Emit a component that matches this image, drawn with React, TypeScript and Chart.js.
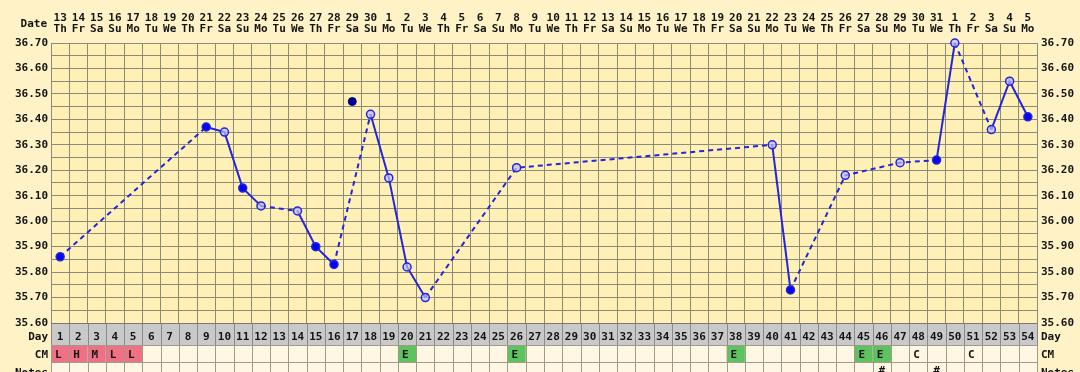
import React, { useEffect, useRef } from 'react';
import { Chart, registerables } from 'chart.js';

Chart.register(...registerables);

const cycleDays = [
  '1', '2', '3', '4', '5', '6', '7', '8', '9', '10', '11', '12', '13', '14', '15', '16', '17', '18',
  '19', '20', '21', '22', '23', '24', '25', '26', '27', '28', '29', '30', '31', '32', '33', '34', '35', '36',
  '37', '38', '39', '40', '41', '42', '43', '44', '45', '46', '47', '48', '49', '50', '51', '52', '53', '54',
];

const dateNumbers = [
  '13', '14', '15', '16', '17', '18', '19', '20', '21', '22', '23', '24', '25', '26', '27', '28', '29', '30',
  '1', '2', '3', '4', '5', '6', '7', '8', '9', '10', '11', '12', '13', '14', '15', '16', '17', '18',
  '19', '20', '21', '22', '23', '24', '25', '26', '27', '28', '29', '30', '31', '1', '2', '3', '4', '5',
];

const weekdays = [
  'Th', 'Fr', 'Sa', 'Su', 'Mo', 'Tu', 'We', 'Th', 'Fr', 'Sa', 'Su', 'Mo', 'Tu', 'We', 'Th', 'Fr', 'Sa', 'Su',
  'Mo', 'Tu', 'We', 'Th', 'Fr', 'Sa', 'Su', 'Mo', 'Tu', 'We', 'Th', 'Fr', 'Sa', 'Su', 'Mo', 'Tu', 'We', 'Th',
  'Fr', 'Sa', 'Su', 'Mo', 'Tu', 'We', 'Th', 'Fr', 'Sa', 'Su', 'Mo', 'Tu', 'We', 'Th', 'Fr', 'Sa', 'Su', 'Mo',
];

const temperatures: (number | null)[] = [
  35.86, null, null, null, null, null, null, null, 36.37, 36.35,
  36.13, 36.06, null, 36.04, 35.90, 35.83, null, 36.42, 36.17, 35.82,
  35.70, null, null, null, null, 36.21, null, null, null, null,
  null, null, null, null, null, null, null, null, null, 36.30,
  35.73, null, null, 36.18, null, null, 36.23, null, 36.24, 36.70,
  null, 36.36, 36.55, 36.41,
];

const filledDays = [1, 9, 11, 15, 16, 41, 49, 54];

const excludedTemps: (number | null)[] = [
  null, null, null, null, null, null, null, null, null, null,
  null, null, null, null, null, null, 36.47, null, null, null,
  null, null, null, null, null, null, null, null, null, null,
  null, null, null, null, null, null, null, null, null, null,
  null, null, null, null, null, null, null, null, null, null,
  null, null, null, null,
];

const cmCodes = [
  'L', 'H', 'M', 'L', 'L', '', '', '', '', '', '', '', '', '', '', '', '', '',
  '', 'E', '', '', '', '', '', 'E', '', '', '', '', '', '', '', '', '', '',
  '', 'E', '', '', '', '', '', '', 'E', 'E', '', 'C', '', '', 'C', '', '', '',
];

const notes = [
  '', '', '', '', '', '', '', '', '', '', '', '', '', '', '', '', '', '',
  '', '', '', '', '', '', '', '', '', '', '', '', '', '', '', '', '', '',
  '', '', '', '', '', '', '', '', '', '#', '', '', '#', '', '', '', '', '',
];

const yMin = 35.6;
const yMax = 36.7;
const yStep = 0.05;

const OUTER_BG = '#fef2c6';
const PLOT_BG = '#fff1b6';
const GRID = '#8e8a78';
const LINE = '#2424dc';
const FILLED = '#0505f0';
const OPEN_FILL = 'rgba(190,190,255,0.7)';
const EXCLUDED = '#000090';
const TEXT = '#141414';
const FONT = 'bold 11px "DejaVu Sans Mono"';

const cmColor = (c: string) => {
  if (c === 'L' || c === 'H' || c === 'M') return '#ef7186';
  if (c === 'E') return '#5ec25e';
  return null;
};

const fertilityPlugin = {
  id: 'fertilityDecor',
  beforeDraw(chart: any) {
    const { ctx } = chart;
    const { left, right, top, bottom } = chart.chartArea;
    ctx.save();
    ctx.fillStyle = OUTER_BG;
    ctx.fillRect(0, 0, chart.width, chart.height);
    ctx.fillStyle = PLOT_BG;
    ctx.fillRect(left, top, right - left, bottom - top);
    ctx.restore();
  },
  afterDraw(chart: any) {
    const { ctx } = chart;
    const xs = chart.scales.x;
    const { left, right, bottom } = chart.chartArea;
    const n = cycleDays.length;
    const w = (right - left) / n;
    const dayTop = bottom;
    const dayBot = bottom + 22;
    const cmBot = dayBot + 17;
    const notesBot = cmBot + 17;
    ctx.save();
    ctx.font = FONT;
    ctx.fillStyle = TEXT;
    ctx.textBaseline = 'alphabetic';

    // header
    ctx.textAlign = 'center';
    for (let i = 0; i < n; i++) {
      const cx = xs.getPixelForValue(i);
      ctx.fillText(dateNumbers[i], cx, 21);
      ctx.fillText(weekdays[i], cx, 32);
    }
    ctx.textAlign = 'right';
    ctx.fillText('Date', left - 4, 27);

    // bands
    ctx.fillStyle = '#c9c9c9';
    ctx.fillRect(left, dayTop, right - left, dayBot - dayTop);
    ctx.fillStyle = '#fff6e3';
    ctx.fillRect(left, dayBot, right - left, notesBot - dayBot);
    for (let i = 0; i < n; i++) {
      const col = cmColor(cmCodes[i]);
      if (col) {
        const cx = xs.getPixelForValue(i);
        ctx.fillStyle = col;
        ctx.fillRect(cx - w / 2, dayBot, w, cmBot - dayBot);
      }
    }
    ctx.lineWidth = 1;
    ctx.strokeStyle = '#8a8a8a';
    ctx.beginPath();
    for (let i = 0; i <= n; i++) {
      const x = Math.round(left + i * w) + 0.5;
      ctx.moveTo(x, dayTop);
      ctx.lineTo(x, dayBot);
    }
    ctx.stroke();
    ctx.strokeStyle = '#a09a8a';
    ctx.beginPath();
    for (let i = 0; i <= n; i++) {
      const x = Math.round(left + i * w) + 0.5;
      ctx.moveTo(x, dayBot);
      ctx.lineTo(x, notesBot);
    }
    [dayBot, cmBot].forEach((y) => {
      ctx.moveTo(left, Math.round(y) + 0.5);
      ctx.lineTo(right, Math.round(y) + 0.5);
    });
    ctx.stroke();
    ctx.strokeStyle = '#777';
    ctx.beginPath();
    ctx.moveTo(left, Math.round(dayTop) + 0.5);
    ctx.lineTo(right, Math.round(dayTop) + 0.5);
    ctx.stroke();

    // band texts
    ctx.fillStyle = TEXT;
    ctx.textAlign = 'center';
    for (let i = 0; i < n; i++) {
      const cx = xs.getPixelForValue(i);
      ctx.fillText(cycleDays[i], cx, dayTop + 17);
      if (notes[i]) ctx.fillText(notes[i], cx, cmBot + 12);
    }
    ctx.textAlign = 'left';
    for (let i = 0; i < n; i++) {
      if (cmCodes[i]) {
        const cx = xs.getPixelForValue(i);
        ctx.fillText(cmCodes[i], cx - w / 2 + 4, dayBot + 13);
      }
    }
    ctx.textAlign = 'right';
    ctx.fillText('Day', left - 3, dayTop + 17);
    ctx.fillText('CM', left - 3, dayBot + 13);
    ctx.fillText('Notes', left - 3, cmBot + 14);
    ctx.textAlign = 'left';
    ctx.fillText('Day', right + 4, dayTop + 17);
    ctx.fillText('CM', right + 4, dayBot + 13);
    ctx.fillText('Notes', right + 4, cmBot + 14);
    ctx.restore();
  },
};

const tickLabel = (v: any) => {
  const c = Math.round(Number(v) * 100);
  return c % 10 === 0 ? (c / 100).toFixed(2) : '';
};

const gapDash = (c: any) => (c.p0.skip || c.p1.skip ? [5, 4] : undefined);

export default function App() {
  const ref = useRef<HTMLCanvasElement | null>(null);

  useEffect(() => {
    document.body.style.margin = '0';
    const canvas = ref.current;
    if (!canvas) return;
    const chart = new Chart(canvas, {
      type: 'line',
      data: {
        labels: cycleDays,
        datasets: [
          {
            data: temperatures,
            spanGaps: true,
            borderColor: LINE,
            borderWidth: 2,
            clip: false,
            segment: { borderDash: gapDash },
            pointRadius: 4,
            pointBorderWidth: 1.5,
            pointBorderColor: LINE,
            pointBackgroundColor: (c: any) =>
              filledDays.includes(c.dataIndex + 1) ? FILLED : OPEN_FILL,
          },
          {
            data: excludedTemps,
            showLine: false,
            clip: false,
            pointRadius: 4,
            pointBorderWidth: 1,
            pointBorderColor: EXCLUDED,
            pointBackgroundColor: EXCLUDED,
          },
        ],
      } as any,
      options: {
        animation: false,
        responsive: false,
        maintainAspectRatio: false,
        layout: { padding: { top: 43, bottom: 49, left: 0, right: 0 } },
        plugins: { legend: { display: false }, tooltip: { enabled: false } },
        scales: {
          x: {
            type: 'category',
            offset: true,
            grid: { offset: true, color: GRID, drawTicks: false, lineWidth: 1 },
            border: { display: false },
            ticks: { display: false },
            afterFit: (s: any) => {
              s.height = 0;
            },
          },
          y: {
            position: 'left',
            min: yMin,
            max: yMax,
            grid: { color: GRID, drawTicks: false, lineWidth: 1 },
            border: { display: true, color: GRID },
            ticks: {
              stepSize: yStep,
              autoSkip: false,
              padding: 3,
              color: TEXT,
              font: { family: 'DejaVu Sans Mono', size: 11, weight: 'bold' },
              callback: tickLabel,
            },
            afterFit: (s: any) => {
              s.width = 51;
            },
          },
          y2: {
            position: 'right',
            min: yMin,
            max: yMax,
            grid: { display: false, drawTicks: false },
            border: { display: true, color: GRID },
            ticks: {
              stepSize: yStep,
              autoSkip: false,
              padding: 4,
              color: TEXT,
              font: { family: 'DejaVu Sans Mono', size: 11, weight: 'bold' },
              callback: tickLabel,
            },
            afterFit: (s: any) => {
              s.width = 43;
            },
          },
        },
      } as any,
      plugins: [fertilityPlugin],
    });
    return () => chart.destroy();
  }, []);

  return <canvas ref={ref} width={1080} height={372} style={{ display: 'block' }} />;
}
